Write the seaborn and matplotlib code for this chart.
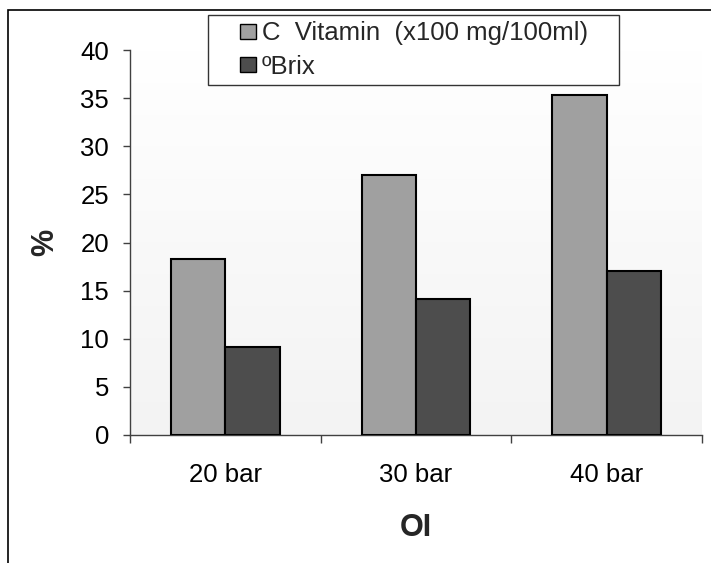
import numpy as np
import pandas as pd
import matplotlib
matplotlib.use("Agg")
import matplotlib.pyplot as plt
import seaborn as sns
from matplotlib.patches import Rectangle, Patch
from matplotlib.legend_handler import HandlerPatch
from matplotlib.colors import LinearSegmentedColormap

# Data
pressures = ["20 bar", "30 bar", "40 bar"]
vitamin_c = [18.3, 27.0, 35.3]
brix = [9.1, 14.1, 17.0]
series_names = ["C  Vitamin  (x100 mg/100ml)", "ºBrix"]
series_colors = ["#a0a0a0", "#4d4d4d"]
y_ticks = [0, 5, 10, 15, 20, 25, 30, 35, 40]

df = pd.DataFrame({
    "pressure": pressures * 2,
    "value": vitamin_c + brix,
    "series": [series_names[0]] * len(pressures) + [series_names[1]] * len(pressures),
})

sns.set_theme(style="white")
plt.rcParams["font.family"] = ["Liberation Sans", "DejaVu Sans"]

W, H = 711, 563
fig = plt.figure(figsize=(W / 100, H / 100), dpi=100)
fig.patch.set_facecolor("white")
ax = fig.add_axes([130 / W, 128 / H, 572 / W, 385 / H])

# soft vertical gradient behind the bars
grad = LinearSegmentedColormap.from_list("plotbg", ["#ffffff", "#f3f3f3"])
ax.imshow(np.linspace(0, 1, 256).reshape(-1, 1), cmap=grad, aspect="auto",
          extent=[-0.5, len(pressures) - 0.5, y_ticks[0], y_ticks[-1]], zorder=0)

sns.barplot(data=df, x="pressure", y="value", hue="series",
            palette=series_colors, saturation=1, width=0.57, gap=0,
            edgecolor="black", linewidth=1.5, ax=ax, zorder=3)

ax.set_xlim(-0.5, len(pressures) - 0.5)
ax.set_ylim(y_ticks[0], y_ticks[-1])
ax.set_yticks(y_ticks)
ax.set_xticks(np.arange(-0.5, len(pressures), 1.0), minor=True)

ax.tick_params(axis="y", left=True, length=5, width=1, color="#404040",
               direction="out", pad=10, labelsize=18.5, labelcolor="black")
ax.tick_params(axis="x", which="major", bottom=True, length=0, pad=20,
               labelsize=18.5, labelcolor="black")
ax.tick_params(axis="x", which="minor", bottom=True, length=6, width=1,
               color="#404040", direction="out")

for side in ("top", "right"):
    ax.spines[side].set_visible(False)
for side in ("left", "bottom"):
    ax.spines[side].set_color("#404040")
    ax.spines[side].set_linewidth(1)

ax.set_xlabel("OI", fontsize=22, fontweight="bold", va="center")
ax.xaxis.set_label_coords(0.5, (H - 527.5 - 128) / 385)
ax.set_ylabel("%", fontsize=22, fontweight="bold", va="center")
ax.yaxis.set_label_coords((45 - 130) / 572, 0.5)

# legend with small squares set at the right end of a wide handle slot
def square_patch(legend, orig_handle, xdescent, ydescent, width, height, fontsize):
    s = 0.6 * fontsize
    return Rectangle((-xdescent + width - s, -ydescent + (height - s) / 2), s, s)

handles, labels = ax.get_legend_handles_labels()
ax.get_legend().remove()
leg = fig.legend(handles, labels, loc="upper left", mode="expand",
                 bbox_to_anchor=(208 / W, (H - 83) / H, 411 / W, 68 / H),
                 bbox_transform=fig.transFigure,
                 borderaxespad=0, fancybox=False, frameon=True, framealpha=1,
                 facecolor="white", edgecolor="#333333", fontsize=18.5,
                 handlelength=1.6, handletextpad=0.25, borderpad=0.25,
                 labelspacing=0.36,
                 handler_map={Patch: HandlerPatch(patch_func=square_patch)})
leg.get_frame().set_linewidth(1)
for h in leg.legend_handles:
    h.set_linewidth(1)

# outer chart frame
fig.add_artist(Rectangle((8 / W, -0.2), 1.5, (1 - 10 / H) + 0.2,
                         transform=fig.transFigure, fill=False,
                         edgecolor="black", linewidth=1.2, clip_on=False))

fig.savefig("out.png", dpi=100)
